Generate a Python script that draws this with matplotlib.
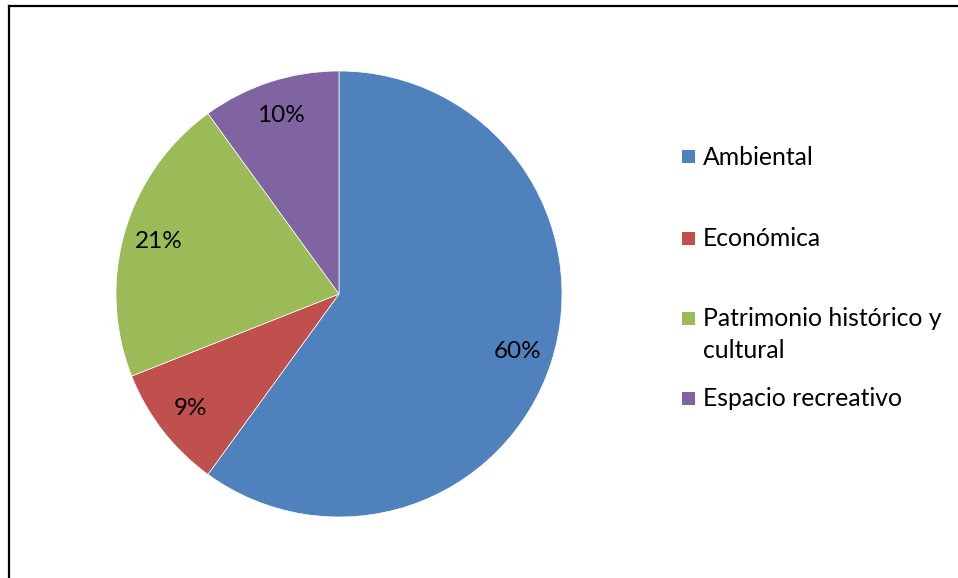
import matplotlib.pyplot as plt
from matplotlib.patches import Rectangle
from matplotlib.lines import Line2D

categories = ["Ambiental", "Económica", "Patrimonio histórico y", "Espacio recreativo"]
wrapped = ["", "", "cultural", ""]
values = [60, 9, 21, 10]
colors = ["#4F81BD", "#C0504D", "#9BBB59", "#8064A2"]

plt.rcParams["font.family"] = ["Lato", "DejaVu Sans"]

W, H = 958, 578
fig = plt.figure(figsize=(W / 100, H / 100), dpi=100)

# pie centered at (339, 294) px, radius 223 px
cx, cy, r = 339, 294, 223
ax = fig.add_axes([(cx - r) / W, (H - cy - r) / H, 2 * r / W, 2 * r / H])
wedges, texts, autotexts = ax.pie(
    values,
    colors=colors,
    startangle=90,
    counterclock=False,
    autopct="%d%%",
    pctdistance=0.84,
    wedgeprops=dict(edgecolor="white", linewidth=0.5),
    textprops=dict(fontsize=17.5, color="black"),
)
ax.set_xlim(-1, 1)
ax.set_ylim(-1, 1)
ax.set_aspect("equal")

# legend drawn by hand, Excel style
leg_y = [157, 238, 318, 398]
for lab, extra, col, y in zip(categories, wrapped, colors, leg_y):
    fig.patches.append(Rectangle((682 / W, (H - y - 6.5) / H), 13 / W, 13 / H,
                                 transform=fig.transFigure, facecolor=col, edgecolor="none"))
    fig.text(703 / W, (H - y) / H, lab, fontsize=17.8, va="center", ha="left")
    if extra:
        fig.text(703 / W, (H - y - 32) / H, extra, fontsize=17.8, va="center", ha="left")

# frame (only top and left edges are visible in the crop)
fig.lines.append(Line2D([8.5 / W, 1], [1 - 5.5 / H, 1 - 5.5 / H], transform=fig.transFigure,
                        color="black", linewidth=1.6))
fig.lines.append(Line2D([8.5 / W, 8.5 / W], [0, 1 - 5.5 / H], transform=fig.transFigure,
                        color="black", linewidth=1.6))

fig.savefig("out.png", dpi=100)
